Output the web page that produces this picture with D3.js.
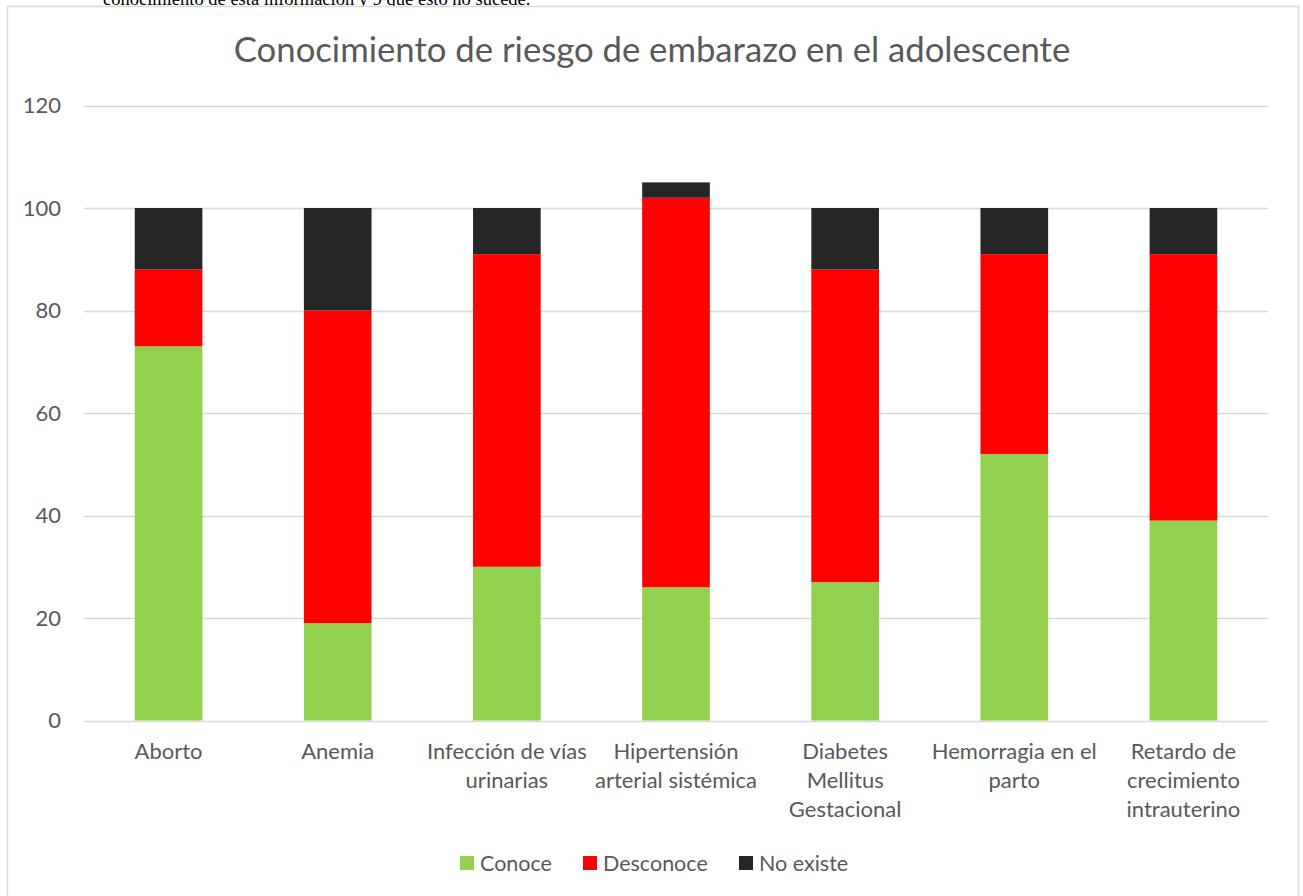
<!DOCTYPE html>
<html><head><meta charset="utf-8">
<script src="https://cdn.jsdelivr.net/npm/d3@7"></script>
<style>
html,body{margin:0;padding:0;background:#fff;overflow:hidden}
svg{display:block}
</style></head>
<body>
<script>
const categories = [
  ["Aborto"],
  ["Anemia"],
  ["Infección de vías", "urinarias"],
  ["Hipertensión", "arterial sistémica"],
  ["Diabetes", "Mellitus", "Gestacional"],
  ["Hemorragia en el", "parto"],
  ["Retardo de", "crecimiento", "intrauterino"]
];
const seriesNames = ["Conoce", "Desconoce", "No existe"];
const conoce    = [73, 19, 30, 26, 27, 52, 39];
const desconoce = [15, 61, 61, 76, 61, 39, 52];
const noExiste  = [12, 20,  9,  3, 12,  9,  9];
const yTicks = [0, 20, 40, 60, 80, 100, 120];
const colors = ["#92D050", "#FF0000", "#262626"];
const title = "Conocimiento de riesgo de embarazo en el adolescente";
const topText = "conocimiento de esta información y 9 que esto no sucede.";

const W = 1303, H = 896;
const FONT = "Lato, 'Open Sans', sans-serif";
const svg = d3.select("body").append("svg").attr("width", W).attr("height", H);

// cut-off text from the page above
svg.append("text").attr("x", 103).attr("y", 5)
  .attr("font-family", "'Liberation Serif', 'Times New Roman', serif")
  .attr("font-size", 18.5).attr("fill", "#000").text(topText);

// chart border
svg.append("rect").attr("x", 7.5).attr("y", 6.5).attr("width", 1291).attr("height", 900)
  .attr("fill", "#fff").attr("stroke", "#d9d9d9").attr("stroke-width", 1.5);

const keys = categories.map(c => c.join(" "));
const data = keys.map((k, i) => ({key: k, "Conoce": conoce[i], "Desconoce": desconoce[i], "No existe": noExiste[i]}));
const stack = d3.stack().keys(seriesNames)(data);

const x = d3.scaleBand().domain(keys).range([84, 1268]).paddingInner(0.6).paddingOuter(0.3);
const y = d3.scaleLinear().domain([0, 120]).range([720.5, 105.5]);

// gridlines
svg.append("g").selectAll("line").data(yTicks).join("line")
  .attr("x1", 84).attr("x2", 1268)
  .attr("y1", d => Math.round(y(d)) + 0.5).attr("y2", d => Math.round(y(d)) + 0.5)
  .attr("stroke", "#d9d9d9").attr("stroke-width", 1.3);

// y tick labels
svg.append("g").selectAll("text").data(yTicks).join("text")
  .attr("x", 61).attr("y", d => y(d)).attr("dy", "0.35em")
  .attr("text-anchor", "end").attr("font-family", FONT).attr("font-size", 22)
  .attr("fill", "#595959").text(d => d);

// bars
svg.append("g").selectAll("g").data(stack).join("g")
  .attr("fill", (d, i) => colors[i])
  .selectAll("rect").data(d => d).join("rect")
  .attr("x", d => x(d.data.key)).attr("width", x.bandwidth())
  .attr("y", d => y(d[1])).attr("height", d => y(d[0]) - y(d[1]));

// category labels
const cl = svg.append("g").selectAll("text").data(categories).join("text")
  .attr("text-anchor", "middle").attr("font-family", FONT).attr("font-size", 22)
  .attr("fill", "#595959")
  .attr("transform", (d, i) => `translate(${x(keys[i]) + x.bandwidth() / 2},759)`);
cl.selectAll("tspan").data(d => d).join("tspan")
  .attr("x", 0).attr("dy", (d, i) => i === 0 ? 0 : 29).text(d => d);

// title
svg.append("text").attr("x", 652).attr("y", 62).attr("text-anchor", "middle")
  .attr("font-family", FONT).attr("font-size", 34.7).attr("fill", "#595959").text(title);

// legend
const legX = [460, 583, 739];
const lg = svg.append("g").selectAll("g").data(seriesNames).join("g")
  .attr("transform", (d, i) => `translate(${legX[i]},856)`);
lg.append("rect").attr("width", 14).attr("height", 14).attr("fill", (d, i) => colors[i]);
lg.append("text").attr("x", 20).attr("y", 7).attr("dy", "0.35em")
  .attr("font-family", FONT).attr("font-size", 21.5).attr("fill", "#595959").text(d => d);
</script>
</body></html>
